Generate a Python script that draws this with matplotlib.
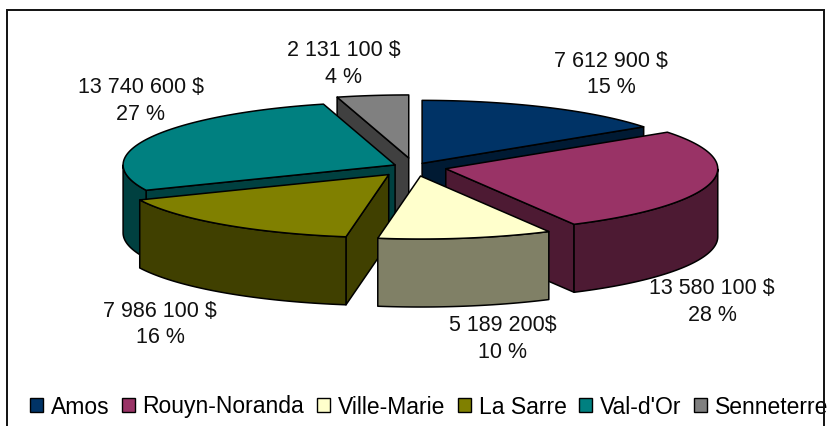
import numpy as np
import matplotlib
matplotlib.use("Agg")
import matplotlib.pyplot as plt
from matplotlib.patches import Polygon, Rectangle

plt.rcParams['font.family'] = ['Liberation Sans', 'DejaVu Sans']

categories = ["Amos", "Rouyn-Noranda", "Ville-Marie", "La Sarre", "Val-d'Or", "Senneterre"]
values = [7612900, 13580100, 5189200, 7986100, 13740600, 2131100]
amount_labels = ["7 612 900 $", "13 580 100 $", "5 189 200$", "7 986 100 $", "13 740 600 $", "2 131 100 $"]
percent_labels = ["15 %", "28 %", "10 %", "16 %", "27 %", "4 %"]
top_colors = ["#003366", "#993366", "#FFFFCC", "#808000", "#008080", "#808080"]
wall_colors = ["#001A33", "#4D1A33", "#808066", "#404000", "#004040", "#404040"]
explode = [0.065, 0.12, 0.145, 0.152, 0.077, 0.145]
draw_order = [5, 0, 4, 1, 3, 2]
label_px = [(611, 74.5), (712, 302), (502.5, 339), (160, 324.5), (141, 101), (343.5, 64)]

W, H = 828, 426
RX, RY, DEPTH = 272.0, 63.0, 68.0   # pixels per unit, extrusion in pixels
CX, CY = 414.0, 167.0               # pie centre in pixels

fig = plt.figure(figsize=(W / 100, H / 100), dpi=100, facecolor="white")
ax = fig.add_axes([0, 0, 1, 1])
ax.set_xlim(-CX / RX, (W - CX) / RX)
ax.set_ylim((CY - H) / RY, CY / RY)
ax.axis("off")
dz = DEPTH / RY

pxx = lambda px: (px - CX) / RX
pxy = lambda py: (CY - py) / RY

# frame of the chart area: its bottom edge lies below the picture
ax.add_patch(Rectangle((pxx(7.5), pxy(440)), 816.5 / RX, 430 / RY, fc="none", ec="#111111", lw=1.4, zorder=200))

total = sum(values)
fractions = np.array(values) / total
ends = 90 - 360 * np.cumsum(fractions)
starts = ends + 360 * fractions

z = 1
def poly(pts, fc):
    global z
    ax.add_patch(Polygon(pts, closed=True, fc=fc, ec="black", lw=1.1, joinstyle="round", zorder=z))
    z += 1

for i in draw_order:
    a0, a1 = np.radians(ends[i]), np.radians(starts[i])
    mid = (a0 + a1) / 2
    c = np.array([explode[i] * np.cos(mid), explode[i] * np.sin(mid)])
    t = np.linspace(a0, a1, 80)
    arc = np.c_[c[0] + np.cos(t), c[1] + np.sin(t)]
    down = np.array([0, -dz])
    # radial walls facing the viewer
    for ang, normal in ((a0, a0 - np.pi / 2), (a1, a1 + np.pi / 2)):
        if np.sin(normal) < 0:
            rim = c + np.array([np.cos(ang), np.sin(ang)])
            poly([c, rim, rim + down, c + down], wall_colors[i])
    # outer wall on the front half
    front = np.sin(t) < 0
    if front.any():
        rim = arc[front]
        poly(np.vstack([rim, (rim + down)[::-1]]), wall_colors[i])
    # top
    poly(np.vstack([c, arc]), top_colors[i])

for (px, py), a, p in zip(label_px, amount_labels, percent_labels):
    ax.text(pxx(px), pxy(py - 13.25), a, ha="center", va="center", fontsize=15.5, color="#111111", zorder=100)
    ax.text(pxx(px), pxy(py + 13.25), p, ha="center", va="center", fontsize=15.5, color="#111111", zorder=100)

handles = [Rectangle((0, 0), 1, 1, fc=col, ec="black", lw=1.0) for col in top_colors]
ax.legend(handles, categories, ncol=6, loc="center", bbox_to_anchor=(429 / W, 1 - 407 / H),
          frameon=False, fontsize=16.5, handlelength=0.57, handleheight=0.57, handletextpad=0.34,
          columnspacing=0.55, borderpad=0, borderaxespad=0)

fig.savefig("out.png", dpi=100)
